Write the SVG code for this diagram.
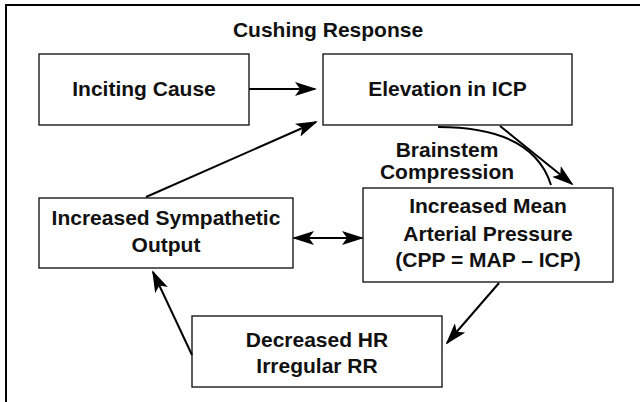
<svg xmlns="http://www.w3.org/2000/svg" width="640" height="402" viewBox="0 0 640 402">
<defs>
<style>
.box{fill:#fff;stroke:#1a1a1a;stroke-width:1.4}
.t{font-family:"Liberation Sans",Arial,sans-serif;font-weight:bold;font-size:21px;fill:#111;text-anchor:middle}
.c{fill:none;stroke:#000;stroke-width:2}
</style>
<marker id="ah" markerUnits="userSpaceOnUse" markerWidth="22" markerHeight="14" viewBox="0 0 22 14" refX="20" refY="7" orient="auto-start-reverse">
<path d="M0,0 L22,7 L0,14 L5,7 Z" fill="#000"/>
</marker>
</defs>
<rect width="640" height="402" fill="#fff"/>
<path d="M6,402 V5 H640" fill="none" stroke="#000" stroke-width="2"/>
<text class="t" x="328" y="37">Cushing Response</text>
<g id="inciting">
<rect class="box" x="39" y="54" width="210" height="71"/>
<text class="t" x="144" y="96">Inciting Cause</text>
</g>
<g id="elevation">
<rect class="box" x="323" y="54" width="249" height="71"/>
<text class="t" x="447.5" y="96">Elevation in ICP</text>
</g>
<g id="sympathetic">
<rect class="box" x="39" y="198" width="254" height="70"/>
<text class="t" x="166" y="225">Increased Sympathetic</text>
<text class="t" x="166" y="252">Output</text>
</g>
<g id="map">
<rect class="box" x="363" y="188" width="250" height="94"/>
<text class="t" x="488" y="213">Increased Mean</text>
<text class="t" x="488" y="241">Arterial Pressure</text>
<text class="t" x="488" y="267">(CPP = MAP – ICP)</text>
</g>
<g id="decreased">
<rect class="box" x="192" y="316" width="250" height="71"/>
<text class="t" x="317" y="347">Decreased HR</text>
<text class="t" x="317" y="373">Irregular RR</text>
</g>
<g id="connectors">
<line class="c" x1="249" y1="89" x2="315" y2="89" marker-end="url(#ah)"/>
<line class="c" x1="146" y1="197" x2="316" y2="122" marker-end="url(#ah)"/>
<line class="c" x1="500" y1="126" x2="572" y2="184" marker-end="url(#ah)"/>
<path class="c" d="M438,127 C490,127 537,140 551,185"/>
<text class="t" x="447" y="157">Brainstem</text>
<text class="t" x="447" y="179">Compression</text>
<line class="c" x1="294" y1="238" x2="362" y2="238" marker-start="url(#ah)" marker-end="url(#ah)"/>
<line class="c" x1="499" y1="283" x2="447" y2="343" marker-end="url(#ah)"/>
<line class="c" x1="192" y1="355" x2="153" y2="272" marker-end="url(#ah)"/>
</g>
</svg>
